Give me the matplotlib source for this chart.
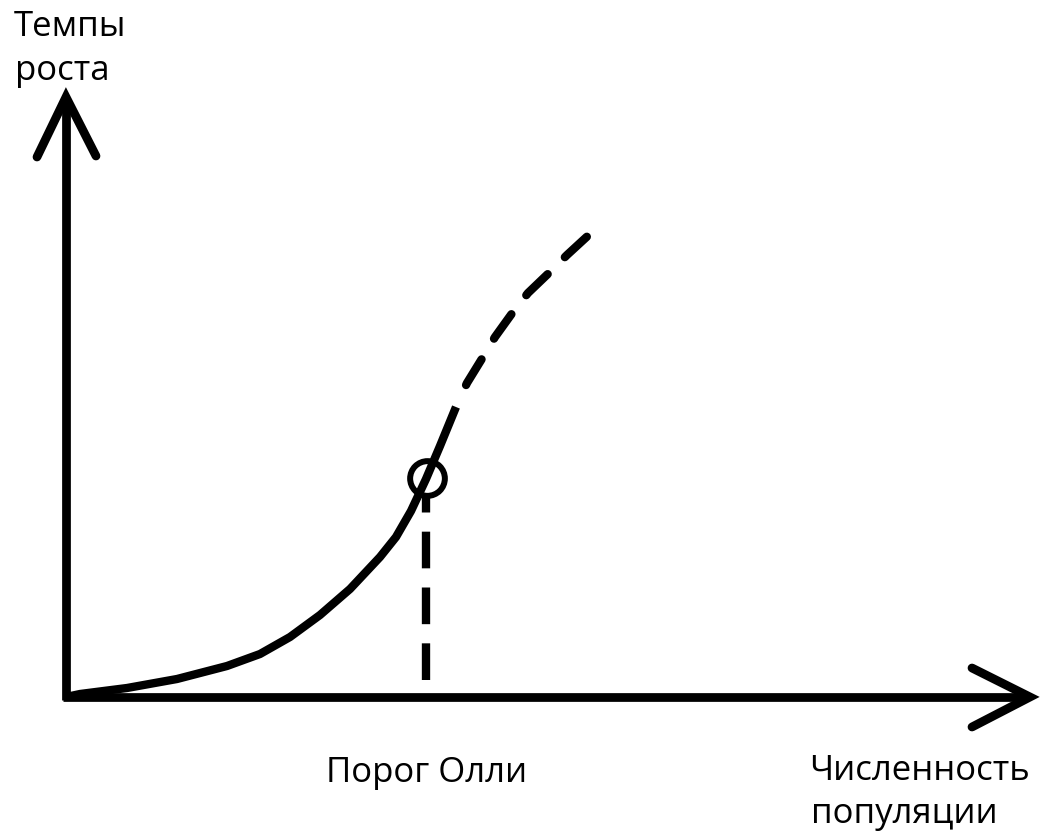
import numpy as np
import matplotlib
matplotlib.use("Agg")
import matplotlib.pyplot as plt

# schematic in picture units (x right, y down), origin of the drawn axes at (66, 697)
origin = (66, 697)
y_tip = 97
x_tip = 1030

# growth rate curve
solid_x = [66, 80, 127, 177, 227, 260, 290, 320, 350, 380, 396, 411, 426, 440, 456]
solid_y = [697, 694, 688, 679, 666, 654, 637, 615, 589, 557, 537, 511, 479, 446, 407]
dash_x = [456, 467, 483, 495, 513, 528, 552, 567, 592]
dash_y = [407, 383, 357, 337, 312, 293, 270, 255, 232]

threshold_x = 426
threshold_y = 478
threshold_bottom = 680

plt.rcParams['font.family'] = ['Open Sans', 'DejaVu Sans']
fig = plt.figure(figsize=(10.4, 8.34), dpi=100)
ax = fig.add_axes([0, 0, 1, 1])
ax.set_xlim(0, 1040)
ax.set_ylim(834, 0)
ax.axis("off")

lw_ax = 6.3
lw = 6.0
ox, oy = origin
# axes lines with open arrowheads
ax.plot([ox, ox], [oy + 3, y_tip + 4], color="black", lw=lw_ax, solid_capstyle="butt")
ax.plot([ox - 29, ox, ox + 30], [157, y_tip, 156], color="black", lw=lw_ax,
        solid_joinstyle="miter", solid_capstyle="round")
ax.plot([ox - 3, x_tip - 4], [oy, oy], color="black", lw=lw_ax, solid_capstyle="butt")
ax.plot([972, x_tip, 972], [668, oy, 727], color="black", lw=lw_ax,
        solid_joinstyle="miter", solid_capstyle="round")

# growth curve
ax.plot(solid_x, solid_y, color="black", lw=lw, solid_capstyle="butt",
        solid_joinstyle="round")
ax.plot(dash_x, dash_y, color="black", lw=lw, linestyle=(3.6, (3.6, 2.9)),
        dash_capstyle="round", dash_joinstyle="round")

# Allee threshold
ax.plot([threshold_x, threshold_x], [threshold_bottom, threshold_y + 19], color="black",
        lw=lw, linestyle=(0, (4.4, 2.3)), dash_capstyle="butt")
ax.plot([threshold_x + 1], [threshold_y], marker="o", ms=25, mfc="none", mec="black", mew=4.3)

fs = 25
ax.text(14, 36, "Темпы", fontsize=fs, va="baseline", ha="left")
ax.text(15, 80, "роста", fontsize=fs, va="baseline", ha="left")
ax.text(427, 782, "Порог Олли", fontsize=fs, va="baseline", ha="center")
ax.text(809, 780, "Численность", fontsize=fs, va="baseline", ha="left")
ax.text(811, 823, "популяции", fontsize=fs, va="baseline", ha="left")

fig.savefig("out.png", dpi=100)
